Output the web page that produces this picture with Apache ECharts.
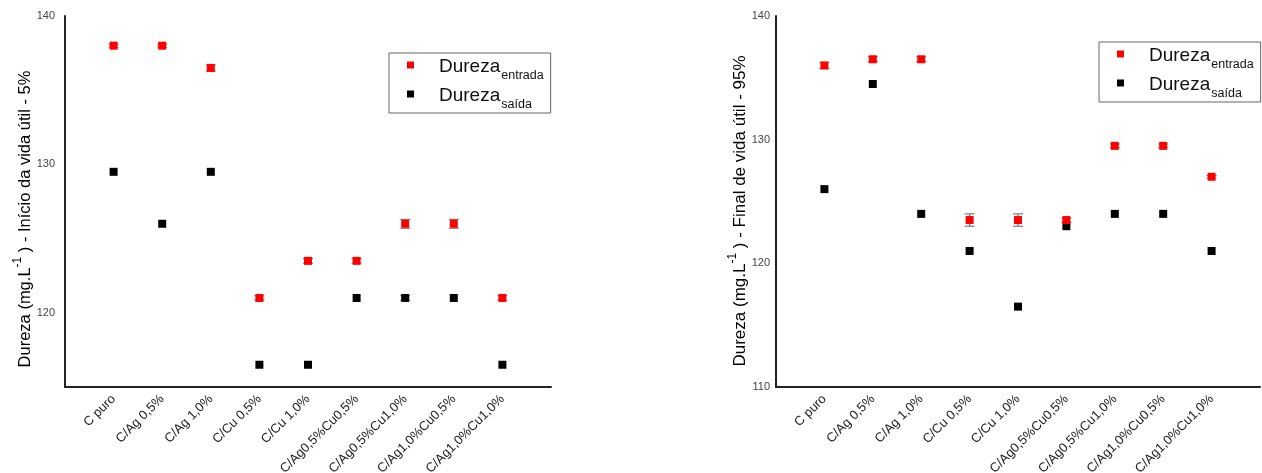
<!DOCTYPE html>
<html>
<head>
<meta charset="utf-8">
<script src="https://cdn.jsdelivr.net/npm/echarts@6/dist/echarts.min.js"></script>
<style>
html,body{margin:0;padding:0;background:#fff;}
#c{width:1262px;height:473px;}
</style>
</head>
<body>
<div id="c"></div>
<script>
// ---- data ----
const categories = ['C puro','C/Ag 0,5%','C/Ag 1,0%','C/Cu 0,5%','C/Cu 1,0%','C/Ag0,5%Cu0,5%','C/Ag0,5%Cu1,0%','C/Ag1,0%Cu0,5%','C/Ag1,0%Cu1,0%'];
// Left: Início da vida útil - 5%
const leftEntrada = [138.0, 138.0, 136.5, 121.0, 123.5, 123.5, 126.0, 126.0, 121.0];
const leftSaida   = [129.5, 126.0, 129.5, 116.5, 116.5, 121.0, 121.0, 121.0, 116.5];
const leftEntradaErr = [0.1, 0.1, 0.2, 0.15, 0.15, 0.15, 0.3, 0.3, 0.15];
const leftSaidaErr   = [0, 0, 0, 0, 0, 0, 0.15, 0, 0];
// Right: Final de vida útil - 95%
const rightEntrada = [136.0, 136.5, 136.5, 123.5, 123.5, 123.5, 129.5, 129.5, 127.0];
const rightSaida   = [126.0, 134.5, 124.0, 121.0, 116.5, 123.0, 124.0, 124.0, 121.0];
const rightEntradaErr = [0.25, 0.2, 0.2, 0.5, 0.5, 0.15, 0.15, 0.15, 0.1];
const rightSaidaErr   = [0, 0, 0, 0, 0, 0, 0, 0, 0];
const leftYTicks = [120, 130, 140];
const rightYTicks = [110, 120, 130, 140];

const NAME_IN = 'Dureza entrada';
const NAME_OUT = 'Dureza saída';
const FONT = '"Liberation Sans", Arial, sans-serif';

function pts(vals){ return vals.map((v,i)=>[i+1, v]); }
function errPts(vals, errs){ return vals.map((v,i)=>[i+1, v, errs[i]]).filter(d=>d[2] > 0); }

function errRender(params, api){
  const x = api.value(0), y = api.value(1), e = api.value(2);
  const top = api.coord([x, y+e]);
  const bot = api.coord([x, y-e]);
  const hw = 5;
  const st = {stroke:'#666', lineWidth:1};
  return {type:'group', children:[
    {type:'line', shape:{x1:top[0], y1:top[1], x2:bot[0], y2:bot[1]}, style:st},
    {type:'line', shape:{x1:top[0]-hw, y1:top[1], x2:top[0]+hw, y2:top[1]}, style:st},
    {type:'line', shape:{x1:bot[0]-hw, y1:bot[1], x2:bot[0]+hw, y2:bot[1]}, style:st}
  ]};
}

function xAxis(gi){
  return {
    type:'value', gridIndex:gi, min:0, max:10, interval:1,
    axisLine:{show:true, lineStyle:{color:'#222', width:2}},
    axisTick:{show:false}, splitLine:{show:false},
    axisLabel:{
      rotate:45, margin:10, fontSize:13, color:'#222', fontFamily:FONT,
      formatter:(v)=> categories[v-1] || ''
    }
  };
}
function yAxis(gi, min, max, interval, ticks, margin){
  return {
    type:'value', gridIndex:gi, min:min, max:max, interval:interval,
    axisLine:{show:true, lineStyle:{color:'#222', width:2}},
    axisTick:{show:false}, splitLine:{show:false},
    axisLabel:{
      fontSize:11, color:'#444', fontFamily:FONT, margin:margin,
      formatter:(v)=> ticks.indexOf(v) >= 0 ? String(v) : ''
    }
  };
}

const legendRich = {
  a:{fontSize:19, lineHeight:22, verticalAlign:'top', color:'#111', fontFamily:FONT, padding:[3,0,0,20]},
  b:{fontSize:12.5, lineHeight:15, verticalAlign:'top', color:'#111', fontFamily:FONT, padding:[15,0,0,1]}
};
function legendFmt(name){
  return name === NAME_IN ? '{a|Dureza}{b|entrada}' : '{a|Dureza}{b|saída}';
}
function legend(left, top){
  return {
    left:left, top:top, orient:'vertical',
    data:[{name:NAME_IN, icon:'rect'},{name:NAME_OUT, icon:'rect'}],
    itemWidth:7, itemHeight:7, itemGap:1,
    padding:[1, 7, 2, 18],
    borderColor:'#666', borderWidth:1,
    formatter:legendFmt,
    textStyle:{rich:legendRich},
    selectedMode:false
  };
}

function scatter(name, xi, data, color){
  return {type:'scatter', name:name, xAxisIndex:xi, yAxisIndex:xi, data:data,
    symbol:'rect', symbolSize:8, itemStyle:{color:color, opacity:1}, z:3, silent:true};
}
function errSeries(xi, data){
  return {type:'custom', xAxisIndex:xi, yAxisIndex:xi, data:data, renderItem:errRender, z:2, silent:true};
}

function yTitle(x, y, tail, size){
  return {
    type:'text', x:x, y:y, rotation:Math.PI/2,
    style:{
      text:'{a|Dureza (mg.L}{s|-1}{a| ) - ' + tail + '}',
      align:'center', verticalAlign:'middle',
      rich:{
        a:{fontSize:size, fontFamily:FONT, color:'#111', lineHeight:22, verticalAlign:'bottom'},
        s:{fontSize:12, fontFamily:FONT, color:'#111', lineHeight:22, verticalAlign:'top'}
      }
    }
  };
}

const chart = echarts.init(document.getElementById('c'), null, {renderer:'canvas'});
chart.setOption({
  backgroundColor:'#ffffff',
  animation:false,
  grid:[
    {left:65, top:16, width:486, height:371, outerBoundsMode:'none', containLabel:false},
    {left:776, top:16, width:484, height:371, outerBoundsMode:'none', containLabel:false}
  ],
  xAxis:[xAxis(0), xAxis(1)],
  yAxis:[yAxis(0,115,140,5,leftYTicks,10), yAxis(1,110,140,10,rightYTicks,6)],
  legend:[legend(389, 53), legend(1099, 42)],
  graphic:[
    yTitle(23, 219, 'Início da vida útil - 5%', 16.5),
    yTitle(738, 211, 'Final de vida útil - 95%', 17)
  ],
  series:[
    errSeries(0, errPts(leftSaida, leftSaidaErr)),
    errSeries(0, errPts(leftEntrada, leftEntradaErr)),
    scatter(NAME_OUT, 0, pts(leftSaida), '#000000'),
    scatter(NAME_IN, 0, pts(leftEntrada), '#ff0000'),
    errSeries(1, errPts(rightSaida, rightSaidaErr)),
    errSeries(1, errPts(rightEntrada, rightEntradaErr)),
    scatter(NAME_OUT, 1, pts(rightSaida), '#000000'),
    scatter(NAME_IN, 1, pts(rightEntrada), '#ff0000')
  ]
});
</script>
</body>
</html>
